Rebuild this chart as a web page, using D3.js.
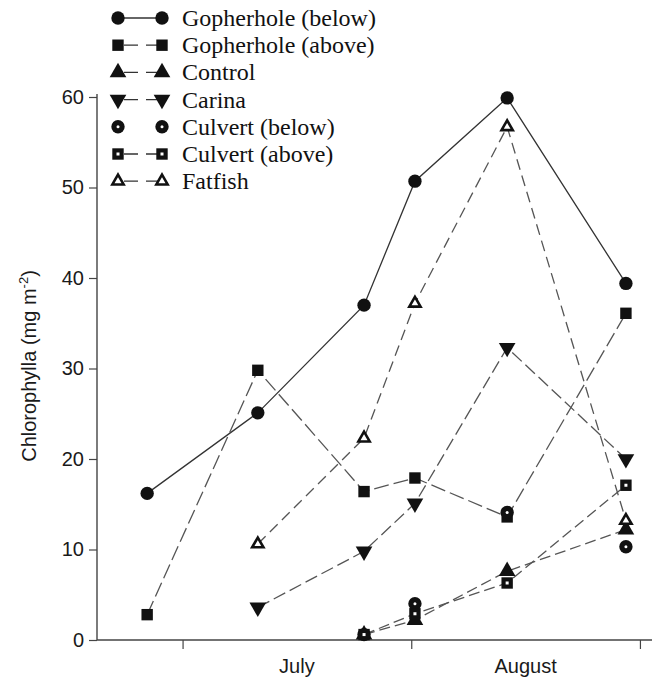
<!DOCTYPE html>
<html><head><meta charset="utf-8">
<script src="https://cdn.jsdelivr.net/npm/d3@7"></script>
<style>body{margin:0;background:#fff}svg{display:block}</style>
</head><body>
<svg id="c" width="656" height="681"></svg>
<script>
// sampling dates, days relative to 1 July
const sampleDays = [-4.8, 10.2, 24.6, 31.5, 44.0, 60.1];
const monthTicks = [0, 31, 62];
const monthLabels = ["July", "August"];
const monthLabelDays = [15.5, 46.5];
const yTicks = [0, 10, 20, 30, 40, 50, 60];

const seriesNames = ["Gopherhole (below)", "Gopherhole (above)", "Control", "Carina", "Culvert (below)", "Culvert (above)", "Fatfish"];
const gopherholeBelow = [16.2, 25.1, 37.0, 50.7, 59.9, 39.4];
const gopherholeAbove = [2.8, 29.8, 16.4, 17.9, 13.6, 36.1];
const control        = [null, null, 0.6, 2.2, 7.6, 12.2];
const carina         = [null, 3.6, 9.8, 15.1, 32.3, 20.0];
const culvertBelow   = [null, null, 0.6, 4.0, 14.1, 10.3];
const culvertAbove   = [null, null, 0.6, 2.9, 6.3, 17.1];
const fatfish        = [null, 10.6, 22.3, 37.2, 56.7, 13.2];
const seriesValues = [gopherholeBelow, gopherholeAbove, control, carina, culvertBelow, culvertAbove, fatfish];

// styles
const markerKinds = ["circle", "square", "triangle", "down", "circleDot", "squareDot", "triangleOpen"];
const lineDash = [null, "15,5", "11,5", "13,5", "none", "11,5", "11,6"];

const svg = d3.select("#c");
const x = d3.scaleLinear().domain([-11.6, 63.5]).range([97, 651]);
const y = d3.scaleLinear().domain([0, 60]).range([640, 97]);

const axisColor = "#444";
const sans = "'Liberation Sans', Arial, sans-serif";
// y axis
const yAxis = svg.append("g").attr("transform", "translate(97,0)")
  .call(d3.axisLeft(y).tickValues(yTicks).tickSize(8).tickPadding(5));
yAxis.select(".domain").remove();
yAxis.append("line").attr("x1", 0).attr("x2", 0).attr("y1", 640).attr("y2", 94)
  .attr("stroke", axisColor).attr("stroke-width", 1.4);
yAxis.selectAll(".tick line").attr("stroke", axisColor).attr("stroke-width", 1.2);
yAxis.selectAll(".tick text").attr("fill", "#1a1a1a")
  .style("font-family", sans).style("font-size", "20px");

// x axis
const xAxis = svg.append("g").attr("transform", "translate(0,640)")
  .call(d3.axisBottom(x).tickValues(monthTicks).tickSize(9).tickFormat(""));
xAxis.select(".domain").remove();
xAxis.append("line").attr("x1", 97).attr("x2", 652).attr("y1", 0).attr("y2", 0)
  .attr("stroke", axisColor).attr("stroke-width", 1.6);
xAxis.selectAll(".tick line").attr("stroke", axisColor).attr("stroke-width", 1.2);
xAxis.selectAll("text.month").data(monthLabels).enter().append("text")
  .attr("class", "month")
  .attr("x", (d, i) => x(monthLabelDays[i])).attr("y", 33)
  .attr("text-anchor", "middle").attr("fill", "#1a1a1a")
  .style("font-family", sans).style("font-size", "20px")
  .text(d => d);

// y title
const yt = svg.append("text")
  .attr("transform", "translate(36,366) rotate(-90)")
  .attr("text-anchor", "middle").attr("fill", "#1a1a1a")
  .style("font-family", sans).style("font-size", "20px");
yt.append("tspan").text("Chlorophylla (mg m");
yt.append("tspan").attr("dy", -8).style("font-size", "13px").text("-2");
yt.append("tspan").attr("dy", 8).text(")");

// marker drawing
function drawMarker(g, kind) {
  if (kind === "circle") {
    g.append("path").attr("d", d3.symbol(d3.symbolCircle, 140)()).attr("fill", "#111");
  } else if (kind === "square") {
    g.append("path").attr("d", d3.symbol(d3.symbolSquare, 130)()).attr("fill", "#111");
  } else if (kind === "triangle") {
    g.append("path").attr("d", d3.symbol(d3.symbolTriangle, 120)()).attr("fill", "#111");
  } else if (kind === "down") {
    g.append("path").attr("d", d3.symbol(d3.symbolTriangle, 120)()).attr("transform", "rotate(180)").attr("fill", "#111");
  } else if (kind === "circleDot") {
    g.append("path").attr("d", d3.symbol(d3.symbolCircle, 140)()).attr("fill", "#111");
    g.append("circle").attr("r", 1.5).attr("fill", "#fff");
  } else if (kind === "squareDot") {
    g.append("path").attr("d", d3.symbol(d3.symbolSquare, 130)()).attr("fill", "#111");
    g.append("rect").attr("x", -1.5).attr("y", -1.5).attr("width", 3).attr("height", 3).attr("fill", "#fff");
  } else if (kind === "triangleOpen") {
    g.append("path").attr("d", d3.symbol(d3.symbolTriangle, 55)()).attr("fill", "#fff")
      .attr("stroke", "#111").attr("stroke-width", 2.6).attr("stroke-linejoin", "miter");
  }
}

// lines
const line = d3.line().defined(d => d[1] != null).x(d => x(d[0])).y(d => y(d[1]));
seriesValues.forEach((vals, i) => {
  if (lineDash[i] === "none") return;
  const pts = sampleDays.map((d, j) => [d, vals[j]]);
  svg.append("path").datum(pts).attr("d", line).attr("fill", "none")
    .attr("stroke", i === 0 ? "#333" : "#555").attr("stroke-width", 1.3)
    .attr("stroke-dasharray", lineDash[i]);
});
// markers
seriesValues.forEach((vals, i) => {
  sampleDays.forEach((d, j) => {
    if (vals[j] == null) return;
    const g = svg.append("g").attr("transform", `translate(${x(d)},${y(vals[j])})`);
    drawMarker(g, markerKinds[i]);
  });
});

// legend
const leg = svg.append("g");
seriesNames.forEach((name, i) => {
  const yy = 18 + i * 27.2;
  if (lineDash[i] !== "none") {
    leg.append("line").attr("x1", 118).attr("x2", 162).attr("y1", yy).attr("y2", yy)
      .attr("stroke", "#333").attr("stroke-width", 1.3)
      .attr("stroke-dasharray", i === 0 ? null : "14,8").attr("stroke-dashoffset", -6);
  }
  [118, 162].forEach(xx => drawMarker(leg.append("g").attr("transform", `translate(${xx},${yy})`), markerKinds[i]));
  leg.append("text").attr("x", 182).attr("y", yy + 8).attr("fill", "#111")
    .style("font-family", "'Liberation Serif', 'Times New Roman', serif").style("font-size", "24px")
    .text(name);
});
</script>
</body></html>
